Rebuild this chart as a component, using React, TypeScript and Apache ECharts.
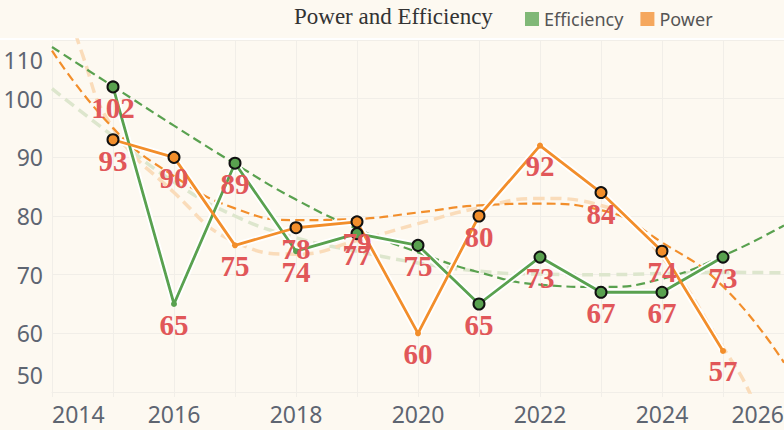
import { useEffect, useRef } from 'react';
import * as echarts from 'echarts';

// observed years
const years = [2015, 2016, 2017, 2018, 2019, 2020, 2021, 2022, 2023, 2024, 2025];
const efficiency = [102, 65, 89, 74, 77, 75, 65, 73, 67, 67, 73];
const power = [93, 90, 75, 78, 79, 60, 80, 92, 84, 74, 57];
// years drawn with the big outlined marker
const efficiencyCircled = [2015, 2017, 2019, 2020, 2021, 2022, 2023, 2024, 2025];
const powerCircled = [2015, 2016, 2018, 2019, 2021, 2023, 2024];

// trend curves
const trendYears = [2014, 2015, 2016, 2017, 2018, 2019, 2020, 2021, 2022, 2023, 2024, 2025, 2026];
const efficiencyTrend = [108.8, 102.1, 95.4, 88.9, 82.8, 77.8, 73.8, 70.4, 68.3, 67.9, 69.3, 73.2, 78.4];
const powerTrend = [108.2, 95, 86.8, 81.3, 79.3, 79.5, 80.6, 81.8, 82.1, 81, 75.5, 68, 55];
const efficiencyTrend2 = [101.7, 93.6, 85.8, 80, 76.3, 74, 72, 70.6, 70.1, 70, 70.2, 70.4, 70.3];
const powerTrend2Years = [2014, 2014.5, 2015, 2016, 2017, 2018, 2019, 2020, 2021, 2022, 2023, 2024, 2025, 2025.5, 2026];
const powerTrend2 = [125, 107.5, 95, 84, 75.6, 73.5, 75.8, 78.7, 81.4, 83, 81.8, 73, 57.6, 48.5, 35];

const yTicks = [50, 60, 70, 80, 90, 100, 110];

const GREEN = '#59a14f';
const ORANGE = '#f28e2b';
const RED = '#e15759';
const GRID = '#f1eee8';
const AXIS_TEXT = '#5e6571';

function points(xs: number[], ys: number[]) {
  return xs.map((x, i) => [x, ys[i]]);
}

function markedPoints(values: number[], circled: number[]) {
  return years.map((y, i) => {
    const big = circled.includes(y);
    return {
      value: [y, values[i]],
      symbolSize: big ? 11 : 6,
      itemStyle: big
        ? { borderColor: '#111', borderWidth: 2 }
        : { borderWidth: 0 },
      label: { distance: big ? 0 : 3 },
    };
  });
}

export default function App() {
  const ref = useRef<HTMLDivElement | null>(null);

  useEffect(() => {
    if (!ref.current) return;
    const chart = echarts.init(ref.current, undefined, { renderer: 'svg' });

    const dataLabel = {
      show: true,
      position: 'bottom',
      formatter: (p: any) => String(p.value[1]),
      color: RED,
      fontFamily: '"Liberation Serif", "Times New Roman", serif',
      fontWeight: 'bold',
      fontSize: 29,
    };

    const trend = (name: string, data: number[][], color: string, width: number, dash: number[]) => ({
      name,
      type: 'line',
      data,
      smooth: 0.5,
      symbol: 'none',
      silent: true,
      lineStyle: { color, width, type: dash },
      z: 1,
    });

    const halo = (name: string, values: number[]) => ({
      name,
      type: 'line',
      data: points(years, values),
      symbol: 'none',
      silent: true,
      lineStyle: { color: '#ffffff', width: 6.5 },
      z: 2,
    });

    const axisFont = { fontFamily: '"Noto Sans", sans-serif', fontSize: 23, color: AXIS_TEXT };

    chart.setOption({
      animation: false,
      backgroundColor: '#fdf9f1',
      title: {
        text: 'Power and Efficiency',
        left: 289,
        top: 0,
        textStyle: {
          fontFamily: '"Liberation Serif", "Times New Roman", serif',
          fontWeight: 'normal',
          fontSize: 23,
          color: '#333',
        },
      },
      legend: {
        top: 5,
        left: 520,
        icon: 'rect',
        itemWidth: 14,
        itemHeight: 14,
        itemGap: 17,
        data: [
          { name: 'Efficiency', itemStyle: { color: '#80b877' } },
          { name: 'Power', itemStyle: { color: '#f5a75d' } },
        ],
        textStyle: { fontFamily: '"Noto Sans", sans-serif', fontSize: 18, color: '#555' },
      },
      graphic: [
        {
          type: 'rect',
          left: 0,
          top: 38,
          silent: true,
          z: 0,
          shape: { width: 784, height: 2 },
          style: { fill: '#ffffff' },
        },
      ],
      grid: { left: 52, right: 0, top: 40, bottom: 38, containLabel: false, outerBoundsMode: 'none' },
      xAxis: {
        type: 'value',
        min: 2014,
        max: 2026,
        interval: 1,
        axisLine: { lineStyle: { color: GRID } },
        axisTick: { show: true, length: 5, lineStyle: { color: GRID } },
        splitLine: { lineStyle: { color: GRID } },
        axisLabel: {
          ...axisFont,
          margin: 10,
          showMinLabel: true,
          showMaxLabel: true,
          alignMinLabel: 'left',
          alignMaxLabel: 'right',
          formatter: (v: number) => (v % 2 === 0 ? String(v) : ''),
        },
      },
      yAxis: {
        type: 'value',
        min: yTicks[0],
        max: yTicks[yTicks.length - 1],
        interval: 10,
        axisLine: { show: false },
        axisTick: { show: false },
        splitLine: { lineStyle: { color: GRID } },
        axisLabel: {
          ...axisFont,
          margin: 9,
          showMinLabel: true,
          showMaxLabel: true,
          formatter: (v: number) =>
            v === yTicks[yTicks.length - 1] ? `{top|${v}}` : v === yTicks[0] ? `{bot|${v}}` : String(v),
          rich: {
            top: { ...axisFont, padding: [40, 0, 0, 0] },
            bot: { ...axisFont, padding: [0, 0, 34, 0] },
          },
        },
      },
      series: [
        trend('Efficiency trend 2', points(trendYears, efficiencyTrend2), '#dde6cd', 3.5, [11, 6]),
        trend('Power trend 2', points(powerTrend2Years, powerTrend2), '#fadcba', 3.5, [11, 6]),
        trend('Efficiency trend', points(trendYears, efficiencyTrend), GREEN, 2.2, [9, 5]),
        trend('Power trend', points(trendYears, powerTrend), ORANGE, 2.2, [9, 5]),
        halo('Efficiency halo', efficiency),
        halo('Power halo', power),
        {
          name: 'Efficiency',
          type: 'line',
          data: markedPoints(efficiency, efficiencyCircled),
          symbol: 'circle',
          color: GREEN,
          lineStyle: { color: GREEN, width: 2.8 },
          label: dataLabel,
          z: 3,
        },
        {
          name: 'Power',
          type: 'line',
          data: markedPoints(power, powerCircled),
          symbol: 'circle',
          color: ORANGE,
          lineStyle: { color: ORANGE, width: 2.8 },
          label: dataLabel,
          z: 3,
        },
      ],
    });

    return () => chart.dispose();
  }, []);

  return (
    <div
      ref={ref}
      style={{ position: 'fixed', left: 0, top: 0, width: 784, height: 430 }}
    />
  );
}
